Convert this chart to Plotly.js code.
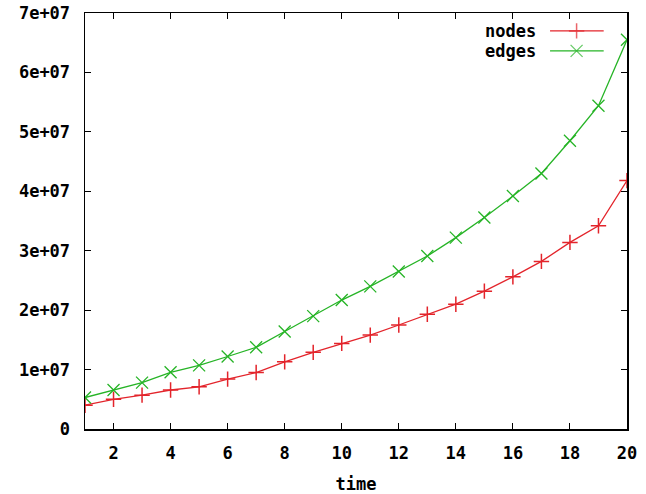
<!DOCTYPE html>
<html><head><meta charset="utf-8">
<script src="https://cdn.plot.ly/plotly-3.0.1.min.js"></script>
<style>body{margin:0;background:#fff}#c{width:646px;height:494px}</style>
</head><body><div id="c"></div>
<script>
const time = [1,2,3,4,5,6,7,8,9,10,11,12,13,14,15,16,17,18,19,20];
const nodes = [4.0e6,5.0e6,5.7e6,6.56e6,7.1e6,8.4e6,9.5e6,1.13e7,1.29e7,1.44e7,1.58e7,1.75e7,1.93e7,2.10e7,2.32e7,2.56e7,2.82e7,3.14e7,3.42e7,4.18e7];
const edges = [5.3e6,6.56e6,7.8e6,9.54e6,1.07e7,1.22e7,1.375e7,1.64e7,1.90e7,2.17e7,2.40e7,2.65e7,2.91e7,3.22e7,3.56e7,3.92e7,4.30e7,4.85e7,5.44e7,6.55e7];
const xTicks = [2,4,6,8,10,12,14,16,18,20];
const yTicks = [0,1e7,2e7,3e7,4e7,5e7,6e7,7e7];
const yTickText = ['0','1e+07','2e+07','3e+07','4e+07','5e+07','6e+07','7e+07'];
const seriesNames = ['nodes','edges'];

const RED = '#e3242b', GREEN = '#26b426';
const FONT = {family:'DejaVu Sans Mono', size:17, color:'#000', weight:'bold'};

const traces = [
  {x:time, y:nodes, name:seriesNames[0], mode:'lines+markers', showlegend:false,
   line:{color:RED, width:1.3},
   marker:{symbol:'cross-thin-open', size:11, line:{color:RED, width:1.5}}},
  {x:time, y:edges, name:seriesNames[1], mode:'lines+markers', showlegend:false,
   line:{color:GREEN, width:1.3},
   marker:{symbol:'x-thin-open', size:12, line:{color:GREEN, width:1.3}}},
  // legend samples on hidden overlay axes
  {x:[0.858,0.907,0.957], y:[0.957,0.957,0.957], xaxis:'x2', yaxis:'y2', mode:'lines+markers', showlegend:false, hoverinfo:'skip',
   line:{color:RED, width:1.3},
   marker:{symbol:'cross-thin-open', size:[0,11,0], line:{color:RED, width:1.5}}},
  {x:[0.858,0.907,0.957], y:[0.909,0.909,0.909], xaxis:'x2', yaxis:'y2', mode:'lines+markers', showlegend:false, hoverinfo:'skip',
   line:{color:GREEN, width:1.3},
   marker:{symbol:'x-thin-open', size:[0,12,0], line:{color:GREEN, width:1.3}}}
];

const layout = {
  width:646, height:494,
  margin:{l:85, r:19, t:13, b:65},
  paper_bgcolor:'#fff', plot_bgcolor:'#fff',
  font:FONT,
  showlegend:false,
  xaxis:{range:[1,20], tickvals:xTicks, ticks:'inside', ticklen:6, tickwidth:1, tickcolor:'#000',
         showline:true, linecolor:'#000', linewidth:1.5, mirror:'ticks', showgrid:false, zeroline:false,
         tickfont:FONT, ticklabelstandoff:8,
         title:{text:'time', font:FONT, standoff:18}},
  yaxis:{range:[0,7e7], tickvals:yTicks, ticktext:yTickText, ticks:'inside', ticklen:6, tickwidth:1, tickcolor:'#000',
         showline:true, linecolor:'#000', linewidth:1.5, mirror:'ticks', showgrid:false, zeroline:false,
         tickfont:FONT, ticklabelstandoff:10},
  xaxis2:{range:[0,1], overlaying:'x', visible:false, fixedrange:true},
  yaxis2:{range:[0,1], overlaying:'y', visible:false, fixedrange:true},
  annotations:[
    {xref:'paper', yref:'paper', x:0.836, y:0.957, xanchor:'right', yanchor:'middle', text:seriesNames[0], showarrow:false, font:FONT},
    {xref:'paper', yref:'paper', x:0.836, y:0.909, xanchor:'right', yanchor:'middle', text:seriesNames[1], showarrow:false, font:FONT}
  ]
};
Plotly.newPlot('c', traces, layout, {displayModeBar:false, staticPlot:true});
</script></body></html>
